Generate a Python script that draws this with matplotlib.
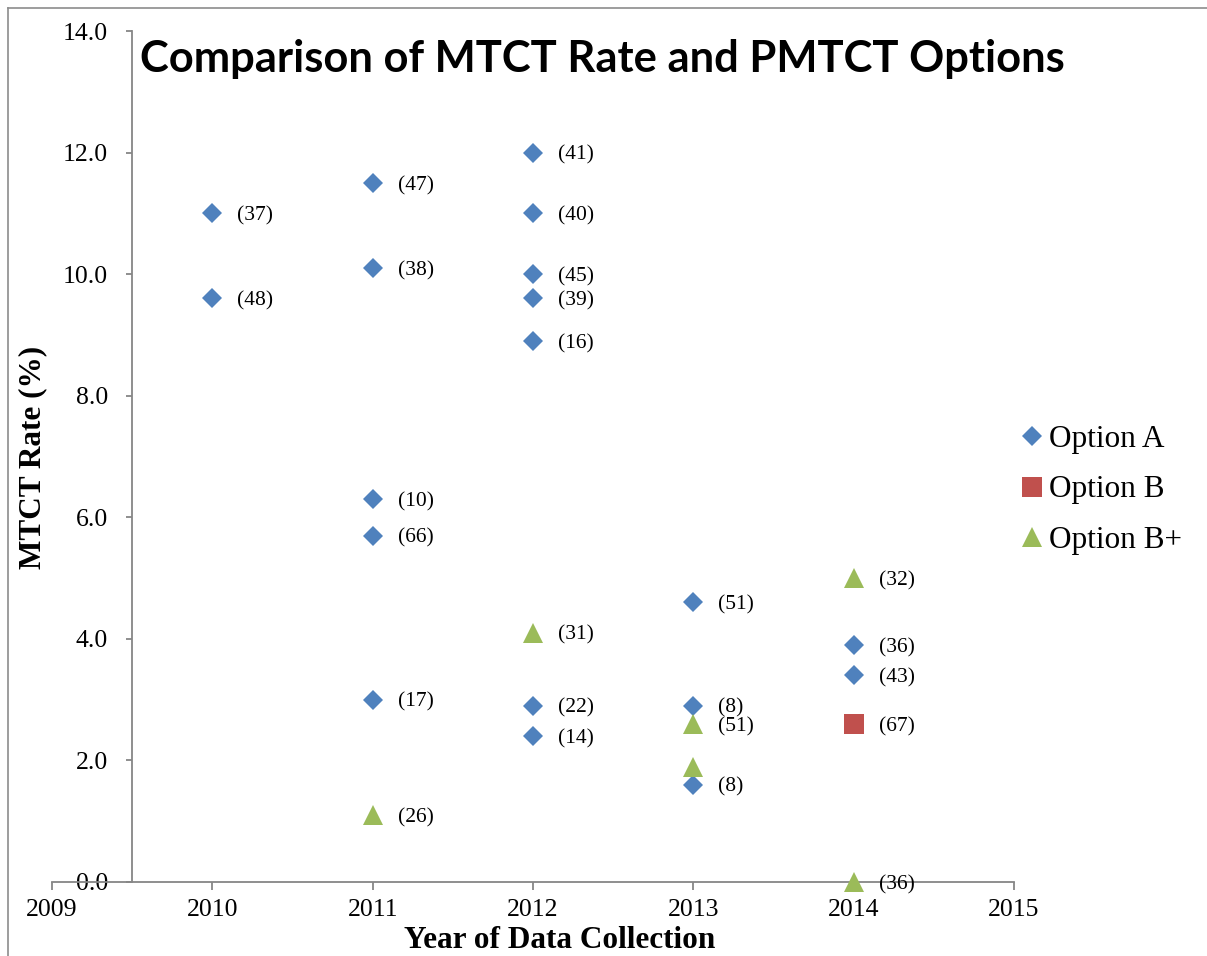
import matplotlib
matplotlib.use('Agg')
import matplotlib.pyplot as plt
from matplotlib.lines import Line2D

# Option A points: year, MTCT rate, sample label
A_YEAR = [2010, 2010, 2011, 2011, 2011, 2011, 2011, 2012, 2012, 2012, 2012, 2012, 2012, 2012, 2013, 2013, 2013, 2014, 2014]
A_RATE = [11.0, 9.6, 11.5, 10.1, 6.3, 5.7, 3.0, 12.0, 11.0, 10.0, 9.6, 8.9, 2.9, 2.4, 4.6, 2.9, 1.6, 3.9, 3.4]
A_LABEL = ['(37)', '(48)', '(47)', '(38)', '(10)', '(66)', '(17)', '(41)', '(40)', '(45)', '(39)', '(16)', '(22)', '(14)', '(51)', '(8)', '(8)', '(36)', '(43)']

B_YEAR = [2014]
B_RATE = [2.6]
B_LABEL = ['(67)']

BP_YEAR = [2011, 2012, 2013, 2013, 2014, 2014]
BP_RATE = [1.1, 4.1, 2.6, 1.9, 5.0, 0.0]
BP_LABEL = ['(26)', '(31)', '(51)', '', '(32)', '(36)']

YTICKS = [0, 2, 4, 6, 8, 10, 12, 14]
XTICKS = [2009, 2010, 2011, 2012, 2013, 2014, 2015]

BLUE = '#4F81BD'
RED = '#C0504D'
GREEN = '#9BBB59'
GRAY = '#868686'
SERIF = 'Liberation Serif'

fig = plt.figure(figsize=(12.07, 9.56), dpi=100)
ax = fig.add_axes([52 / 1207, 1 - 882 / 956, 962 / 1207, 851 / 956])

series = [
    (A_YEAR, A_RATE, A_LABEL, 'D', 10.5, BLUE, 'Option A'),
    (B_YEAR, B_RATE, B_LABEL, 's', 14.5, RED, 'Option B'),
    (BP_YEAR, BP_RATE, BP_LABEL, '^', 14.5, GREEN, 'Option B+'),
]
for xs, ys, labels, marker, ms, color, name in series:
    ax.plot(xs, ys, linestyle='none', marker=marker, markersize=ms,
            color=color, markeredgewidth=0, label=name, clip_on=False, zorder=3)
    for x, y, lab in zip(xs, ys, labels):
        if lab:
            ax.annotate(lab, (x, y), xytext=(18, 0), textcoords='offset points',
                        ha='left', va='center_baseline', fontsize=15.5, family=SERIF)

ax.set_xlim(2009, 2015)
ax.set_ylim(0, 14)
ax.set_xticks(XTICKS)
ax.set_yticks(YTICKS)
ax.set_yticklabels([f'{v:.1f}' for v in YTICKS])

ax.spines['top'].set_visible(False)
ax.spines['right'].set_visible(False)
ax.spines['left'].set_position(('data', 2009.5))
for s in ('left', 'bottom'):
    ax.spines[s].set_color(GRAY)
    ax.spines[s].set_linewidth(1.3)

ax.tick_params(axis='y', direction='out', length=4.3, width=1.3, color=GRAY, pad=13,
               labelsize=18.5)
ax.tick_params(axis='x', direction='out', length=5.8, width=1.3, color=GRAY, pad=6.5,
               labelsize=18.5)
for lab in ax.get_xticklabels() + ax.get_yticklabels():
    lab.set_family(SERIF)

fig.text(33 / 1207, 1 - 457 / 956, 'MTCT Rate (%)', rotation=90, ha='center', va='center',
         fontsize=22.5, fontweight='bold', family=SERIF)
fig.text(560 / 1207, 1 - 941 / 956, 'Year of Data Collection', ha='center', va='center',
         fontsize=22.5, fontweight='bold', family=SERIF)

fig.text(140 / 1207, 1 - 72 / 956, 'Comparison of MTCT Rate and PMTCT Options',
         ha='left', va='baseline', fontsize=31.3, fontweight='bold', family='Lato')

handles = [
    Line2D([], [], linestyle='none', marker='D', markersize=10.5, color=BLUE, markeredgewidth=0),
    Line2D([], [], linestyle='none', marker='s', markersize=14.5, color=RED, markeredgewidth=0),
    Line2D([], [], linestyle='none', marker='^', markersize=14.5, color=GREEN, markeredgewidth=0),
]
fig.legend(handles, ['Option A', 'Option B', 'Option B+'], loc='center left',
           bbox_to_anchor=(1021 / 1207, 1 - 490 / 956), frameon=False,
           prop={'family': SERIF, 'size': 22.5}, handlelength=0.7, handletextpad=0.2,
           labelspacing=0.7, borderpad=0, borderaxespad=0)

# outer frame (only left and top visible in the original crop)
fig.add_artist(Line2D([8 / 1207, 8 / 1207], [0, 1 - 8 / 956], transform=fig.transFigure,
                      color='#8c8c8c', linewidth=1.2))
fig.add_artist(Line2D([8 / 1207, 1], [1 - 8 / 956, 1 - 8 / 956], transform=fig.transFigure,
                      color='#8c8c8c', linewidth=1.2))

fig.savefig('out.png', dpi=100)
